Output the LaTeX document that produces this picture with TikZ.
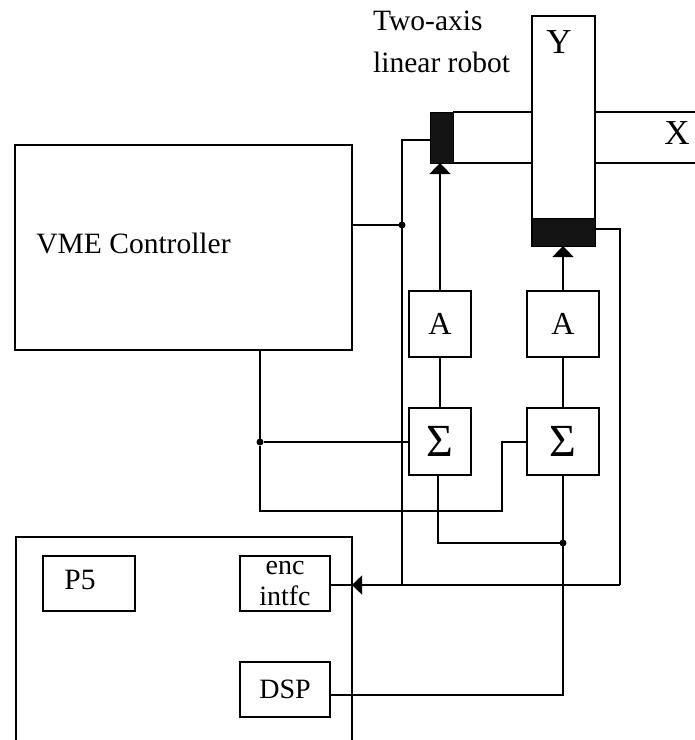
\documentclass[tikz,border=0pt]{standalone}
\usepackage{fontspec}
\setmainfont{Liberation Serif}
\usetikzlibrary{arrows.meta,positioning}

\begin{document}
\begin{tikzpicture}[x=1pt,y=-1pt]
\tikzstyle{block}=[rectangle, inner sep=0pt,outer sep=0pt,
	line width=1.4pt,draw=black,align=center,
	font=\fontsize{28}{31}\selectfont,
]
\tikzstyle{amp}=[block,minimum width=62pt,minimum height=66pt,node distance = 123pt]
\tikzstyle{drive}=[rectangle, inner sep=0pt,outer sep=0pt,draw=black,fill=black!92,line width=1pt]
\tikzstyle{dot}=[circle, inner sep=0pt,outer sep=0pt,fill=black,minimum size=7pt]
\tikzstyle{wire}=[line width=1.4pt,draw=black]
\tikzstyle{label}=[inner sep=0pt,font=\fontsize{29.5}{30}\selectfont]
\tikzstyle{axis}=[inner sep=0pt,font=\fontsize{35}{36}\selectfont]
\useasboundingbox (0,0) rectangle (695,740);
\node[block,minimum width=337pt,minimum height=205pt] (vme) at (183.5,247.5) {};
\node[label] (vmetext) at (133.5,243) {VME Controller};
\node[block,minimum width=63pt,minimum height=230pt] (yaxis) at (563.5,131) {};
\node[axis] (ytext) at (559,42) {Y};
\node[drive,minimum width=63pt,minimum height=28pt] (ydrive) at (563.5,232) {};
\node[drive,minimum width=23pt,minimum height=51pt] (xdrive) at (441.5,137.5) {};
\node[axis] (xtext) at (677,133) {X};
\node[label,anchor=west] (robot1) at (373,21) {Two-axis};
\node[label,anchor=west] (robot2) at (373,62) {linear robot};
\node[amp,font=\fontsize{32}{32}\selectfont] (ampx) at (440,324) {A};
\node[amp,right of = ampx,minimum width=72pt,font=\fontsize{32}{32}\selectfont] (ampy) {A};
\node[amp,below = 51pt of ampx,minimum height=67pt] (sumx) {\fontsize{46}{46}\selectfont Σ};
\node[amp,below = 51pt of ampy,minimum width=72pt,minimum height=67pt] (sumy) {\fontsize{46}{46}\selectfont Σ};
\node[block,minimum width=92pt,minimum height=55pt] (pfive) at (89,583.5) {};
\node[label] (pfivetext) at (80,580) {P5};
\node[block,minimum width=90pt,minimum height=55pt] (enc) at (285,583.5) {enc\\intfc};
\node[block,minimum width=90pt,minimum height=55pt] (dsp) at (285,689.5) {DSP};
% host board, open at the bottom
\coordinate (hostbl) at (16,740);
\coordinate (hosttl) at (16,537);
\coordinate (hosttr) at (352,537);
\coordinate (hostbr) at (352,740);
\draw[wire] (hostbl) -- (hosttl) -- (hosttr) -- (hostbr);
% rails of the x axis
\coordinate (railatop) at (532,112);
\coordinate (railabot) at (532,163);
\coordinate (railbtop) at (595,112);
\coordinate (railbbot) at (595,163);
\coordinate (railctop) at (695,112);
\coordinate (railcbot) at (695,163);
\draw[wire] (xdrive.north east) -- (railatop);
\draw[wire] (xdrive.south east) -- (railabot);
\draw[wire] (railbtop) -- (railctop);
\draw[wire] (railbbot) -- (railcbot);
% junctions
\node[dot] (jbus) at (402,225) {};
\node[dot] (jref) at (260,442) {};
\node[dot] (jout) at (563,543) {};
\coordinate (jenc) at (402,585);
\coordinate (jret) at (620,585);
\coordinate (xin) at (402,140);
\coordinate (yout) at (620,229);
\coordinate (refb) at (260,511);
\coordinate (refc) at (502,511);
\coordinate (refd) at (502,442);
\coordinate (outa) at (438,543);
\coordinate (dspr) at (563,695);
% connectors
\draw[wire] (vme.east |- jbus) -- (jbus);
\draw[wire] (jenc) -- (xin) -- (xdrive.west |- xin);
\draw[wire] (vme.south -| jref) -- (jref) -- (refb) -- (refc) -- (refd) -- (sumy.west |- refd);
\draw[wire] (jref) -- (sumx.west |- jref);
\draw[wire] (sumx.south -| outa) -- (outa) -- (jout);
\draw[wire] (sumy.south -| jout) -- (dspr) -- (dsp.east |- dspr);
\draw[wire] (ampx) -- (sumx);
\draw[wire] (ampy) -- (sumy);
\draw[wire] (yaxis.east |- yout) -- (yout) -- (jret);
\draw[wire,-{Triangle[width=19pt,length=10pt]}] (jret) -- (hosttr |- jret);
\draw[wire] (hosttr |- jret) -- (enc.east |- jret);
\draw[wire,-{Triangle[width=21pt,length=11pt]}] (ampx.north) -- (ampx.north |- xdrive.south);
\draw[wire,-{Triangle[width=21pt,length=11pt]}] (ampy.north) -- (ampy.north |- ydrive.south);
\end{tikzpicture}
\end{document}
